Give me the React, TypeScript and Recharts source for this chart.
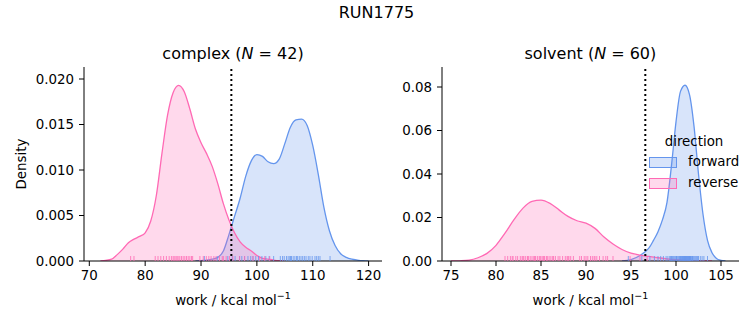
import React from 'react';
import { ComposedChart, Area, Scatter, XAxis, YAxis, ReferenceLine } from 'recharts';

// KDE curves (x = work, y = density)
const complexFwdX = [89, 90, 91, 92, 93, 94, 95, 96, 97, 98, 99, 100, 101, 102, 103, 104, 105, 106, 107, 108, 109, 110, 111, 112, 113, 114, 115, 116, 117, 118, 119, 120];
const complexFwdY = [0, 0.00005, 0.0001, 0.0002, 0.0004, 0.0011, 0.0029, 0.0049, 0.0069, 0.0093, 0.011, 0.0117, 0.0115, 0.0109, 0.0107, 0.0112, 0.0129, 0.0147, 0.0155, 0.0156, 0.0149, 0.0127, 0.0095, 0.0059, 0.0033, 0.0017, 0.0008, 0.0004, 0.0002, 0.0001, 0.00003, 0];
const complexRevX = [72, 74, 75, 76, 77, 78, 79, 80, 81, 82, 83, 84, 85, 86, 87, 88, 89, 90, 91, 92, 93, 94, 95, 96, 97, 98, 99, 100, 101, 102, 103, 104, 105];
const complexRevY = [0, 0.0002, 0.0007, 0.0013, 0.002, 0.0024, 0.0027, 0.0031, 0.0044, 0.0072, 0.0118, 0.016, 0.0185, 0.0193, 0.0186, 0.0167, 0.0145, 0.013, 0.0118, 0.0104, 0.0085, 0.0063, 0.0045, 0.0031, 0.0021, 0.0015, 0.0011, 0.0006, 0.0003, 0.0002, 0.0001, 0.00003, 0];

const solventFwdX = [94, 95, 96, 96.5, 97, 97.5, 98, 98.5, 99, 99.5, 100, 100.5, 101, 101.5, 102, 102.5, 103, 103.5, 104, 104.5, 105, 105.5];
const solventFwdY = [0, 0.0006, 0.0025, 0.004, 0.006, 0.0095, 0.0135, 0.019, 0.027, 0.044, 0.064, 0.078, 0.0808, 0.0765, 0.062, 0.04, 0.0215, 0.0095, 0.0038, 0.0012, 0.0003, 0];
const solventRevX = [75, 76, 77, 78, 79, 80, 81, 82, 83, 84, 85, 86, 87, 88, 89, 90, 91, 92, 93, 94, 95, 96, 97, 98, 99, 100, 101, 102, 103, 104];
const solventRevY = [0, 0.0001, 0.0004, 0.0015, 0.0035, 0.0072, 0.0128, 0.019, 0.0243, 0.0274, 0.028, 0.0265, 0.0235, 0.0205, 0.0185, 0.0174, 0.015, 0.011, 0.0078, 0.0053, 0.0036, 0.0027, 0.0021, 0.0015, 0.001, 0.0006, 0.0003, 0.0001, 0.00003, 0];

// rug samples
const complexFwdRug = [90.6, 92.9, 94.8, 95.6, 96.1, 96.9, 97.3, 97.8, 98.4, 98.9, 99.3, 99.8, 100.3, 100.9, 101.6, 102.2, 103.0, 104.2, 104.6, 104.9, 105.3, 105.6, 105.9, 106.2, 106.5, 106.8, 107.1, 107.3, 107.6, 107.9, 108.2, 108.5, 108.8, 109.2, 109.5, 109.9, 110.4, 110.7, 111.0, 111.3, 113.1, 106.0];
const complexRevRug = [77.4, 78.0, 81.8, 82.3, 82.8, 83.3, 83.8, 84.3, 84.7, 85.0, 85.2, 85.5, 85.7, 85.9, 86.2, 86.5, 86.8, 87.1, 87.4, 87.7, 88.0, 88.3, 88.5, 89.8, 90.4, 90.95, 91.4, 91.8, 92.3, 92.7, 93.3, 93.8, 94.0, 94.5, 95.1, 95.7, 96.9, 97.8, 99.3, 100.5, 101.4, 102.3];
const solventFwdRug = [94.7, 96.2, 97.1, 97.6, 98.0, 98.3, 98.6, 98.9, 99.1, 99.3, 99.5, 99.6, 99.8, 99.9, 100.0, 100.1, 100.2, 100.3, 100.4, 100.5, 100.6, 100.7, 100.75, 100.8, 100.85, 100.9, 100.95, 101.0, 101.05, 101.1, 101.15, 101.2, 101.3, 101.35, 101.4, 101.5, 101.55, 101.6, 101.7, 101.8, 101.85, 101.9, 102.0, 102.1, 102.2, 102.3, 102.4, 102.5, 102.7, 102.9, 103.1, 103.5, 99.7, 100.45, 101.25, 100.65, 101.45, 100.05, 101.65, 99.4];
const solventRevRug = [81.0, 81.3, 81.6, 81.9, 82.2, 82.4, 82.7, 83.0, 83.3, 83.5, 83.8, 84.0, 84.2, 84.4, 84.6, 84.8, 85.0, 85.2, 85.4, 85.6, 85.9, 86.1, 86.3, 86.6, 86.9, 87.1, 87.4, 87.7, 88.0, 88.3, 88.6, 89.5, 89.8, 90.0, 90.2, 90.5, 90.7, 91.0, 91.2, 91.5, 91.9, 92.4, 93.0, 94.9, 96.0, 96.8, 84.3, 85.3, 83.6, 82.9, 86.4, 88.1, 90.9, 81.8, 84.9, 87.9, 89.3, 92.2, 85.7, 83.1];

const complexTicksX = [70, 80, 90, 100, 110, 120];
const complexTicksY = [0, 0.005, 0.01, 0.015, 0.02];
const solventTicksX = [75, 80, 85, 90, 95, 100, 105];
const solventTicksY = [0, 0.02, 0.04, 0.06, 0.08];

const BLUE = '#6495ed';
const PINK = '#ff69b4';
const FONT = '"DejaVu Sans", sans-serif';

const pts = (xs: number[], ys: number[]) => xs.map((x, i) => ({ x, y: ys[i] }));
const rug = (xs: number[]) => xs.map((x) => ({ x, y: 0 }));

const rugShape = (color: string) => (props: any) => (
  <line x1={props.cx} x2={props.cx} y1={props.cy} y2={props.cy - 5} stroke={color} strokeOpacity={0.8} strokeWidth={1} />
);

const tickStyle = { fontSize: 13.4, fill: '#000', fontFamily: FONT };

type PanelProps = {
  left: number;
  width: number;
  margin: { top: number; right: number; bottom: number; left: number };
  yWidth: number;
  xDomain: [number, number];
  yDomain: [number, number];
  xTicks: number[];
  yTicks: number[];
  yDigits: number;
  fwd: { x: number; y: number }[];
  rev: { x: number; y: number }[];
  fwdRug: { x: number; y: number }[];
  revRug: { x: number; y: number }[];
  refX: number;
};

const Panel: React.FC<PanelProps> = (p) => (
  <div style={{ position: 'absolute', left: p.left, top: 0 }}>
    <ComposedChart width={p.width} height={325} margin={p.margin}>
      <XAxis
        type="number"
        dataKey="x"
        domain={p.xDomain}
        ticks={p.xTicks}
        interval={0}
        allowDataOverflow
        height={64}
        tickSize={5}
        tickMargin={4}
        stroke="#000"
        tick={tickStyle}
      />
      <YAxis
        type="number"
        dataKey="y"
        domain={p.yDomain}
        ticks={p.yTicks}
        interval={0}
        allowDataOverflow
        width={p.yWidth}
        tickSize={5}
        tickMargin={5}
        stroke="#000"
        tick={tickStyle}
        tickFormatter={(v: number) => v.toFixed(p.yDigits)}
      />
      <Area data={p.fwd} dataKey="y" type="monotone" stroke={BLUE} strokeWidth={1.3} fill={BLUE} fillOpacity={0.25} isAnimationActive={false} dot={false} activeDot={false} />
      <Area data={p.rev} dataKey="y" type="monotone" stroke={PINK} strokeWidth={1.3} fill={PINK} fillOpacity={0.25} isAnimationActive={false} dot={false} activeDot={false} />
      <Scatter data={p.fwdRug} dataKey="y" shape={rugShape(BLUE)} isAnimationActive={false} />
      <Scatter data={p.revRug} dataKey="y" shape={rugShape(PINK)} isAnimationActive={false} />
      <ReferenceLine x={p.refX} stroke="#000" strokeWidth={2} strokeDasharray="2 3" />
    </ComposedChart>
  </div>
);

const txt = (x: number, y: number, size: number): React.CSSProperties => ({
  position: 'absolute',
  left: x,
  top: y,
  transform: 'translate(-50%, -50%)',
  fontSize: size,
  fontFamily: FONT,
  color: '#000',
  whiteSpace: 'nowrap',
  lineHeight: 1,
});

const App: React.FC = () => {
  return (
    <div style={{ position: 'absolute', left: 0, top: 0, width: 753, height: 325, background: '#fff', overflow: 'hidden' }}>
      <Panel
        left={0}
        width={390}
        margin={{ top: 67, right: 8, bottom: 0, left: 20 }}
        yWidth={64}
        xDomain={[69.05, 122.4]}
        yDomain={[0, 0.02132]}
        xTicks={complexTicksX}
        yTicks={complexTicksY}
        yDigits={3}
        fwd={pts(complexFwdX, complexFwdY)}
        rev={pts(complexRevX, complexRevY)}
        fwdRug={rug(complexFwdRug)}
        revRug={rug(complexRevRug)}
        refX={95.43}
      />
      <Panel
        left={390}
        width={363}
        margin={{ top: 67, right: 14, bottom: 0, left: 4 }}
        yWidth={48}
        xDomain={[74.0, 107.0]}
        yDomain={[0, 0.0892]}
        xTicks={solventTicksX}
        yTicks={solventTicksY}
        yDigits={2}
        fwd={pts(solventFwdX, solventFwdY)}
        rev={pts(solventRevX, solventRevY)}
        fwdRug={rug(solventFwdRug)}
        revRug={rug(solventRevRug)}
        refX={96.59}
      />

      <div style={txt(376.5, 13, 16)}>RUN1775</div>
      <div style={txt(233, 54, 16)}>complex (<i>N</i> = 42)</div>
      <div style={txt(590.4, 54, 16)}>solvent (<i>N</i> = 60)</div>
      <div style={txt(233, 299, 13.4)}>work / kcal mol<sup style={{ fontSize: 9.5 }}>−1</sup></div>
      <div style={txt(590.4, 299, 13.4)}>work / kcal mol<sup style={{ fontSize: 9.5 }}>−1</sup></div>
      <div style={{ ...txt(22, 164, 13.4), transform: 'translate(-50%, -50%) rotate(-90deg)' }}>Density</div>

      {/* legend */}
      <div style={txt(694, 142, 13.4)}>direction</div>
      <div style={{ position: 'absolute', left: 649, top: 157, width: 26, height: 9, border: `1px solid ${BLUE}`, background: 'rgba(100,149,237,0.25)' }} />
      <div style={{ position: 'absolute', left: 649, top: 178, width: 26, height: 9, border: `1px solid ${PINK}`, background: 'rgba(255,105,180,0.25)' }} />
      <div style={{ ...txt(688, 162, 13.4), transform: 'translate(0, -50%)' }}>forward</div>
      <div style={{ ...txt(688, 183, 13.4), transform: 'translate(0, -50%)' }}>reverse</div>
    </div>
  );
};

export default App;
